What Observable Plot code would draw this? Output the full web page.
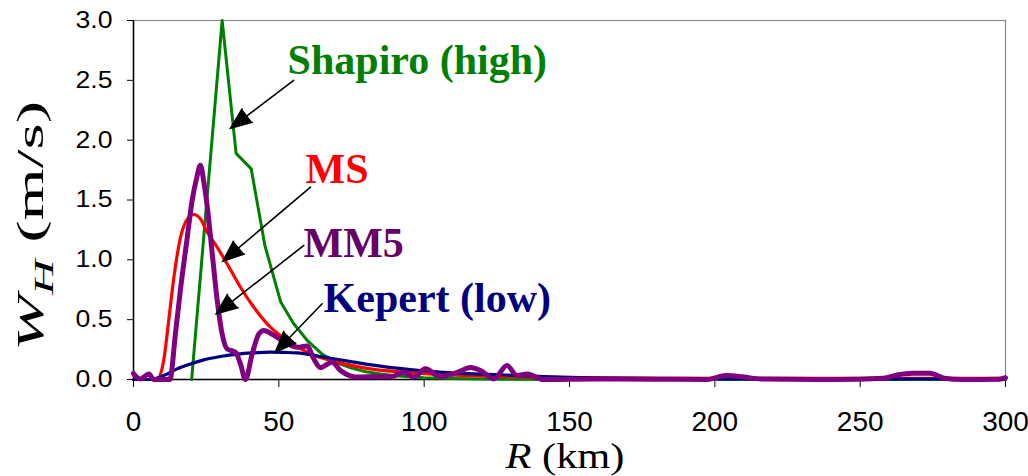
<!DOCTYPE html>
<html><head><meta charset="utf-8">
<script src="https://cdn.jsdelivr.net/npm/d3@7"></script>
<script src="https://cdn.jsdelivr.net/npm/@observablehq/plot@0.6"></script>
<style>body{margin:0;background:#fff} #chart svg{display:block}</style>
</head><body><div id="chart"></div>
<script>
// ---- data ----
const xTicks = [0, 50, 100, 150, 200, 250, 300];
const yTicks = [0, 0.5, 1.0, 1.5, 2.0, 2.5, 3.0];

const shapiroR = [20, 30.5, 35.3, 40.5, 45.2, 50.6, 55, 60, 65, 70, 75, 80, 85, 90, 95, 100, 110, 120, 130, 150, 200, 250, 300];
const shapiroW = [0, 3.0, 1.89, 1.76, 1.12, 0.65, 0.47, 0.32, 0.21, 0.14, 0.095, 0.065, 0.047, 0.032, 0.022, 0.015, 0.008, 0.004, 0.002, 0.001, 0, 0, 0];

const msR = [0, 5, 8, 10.4, 12.1, 13.9, 16.2, 19, 20.7, 23, 25.4, 28.8, 32.2, 36.8, 41.4, 47.1, 52.9, 60.9, 70, 81.5, 93, 104.5, 113.5, 125, 140, 160, 200, 250, 300];
const msW = [0, 0, 0, 0.16, 0.49, 0.855, 1.19, 1.356, 1.379, 1.343, 1.23, 1.105, 0.967, 0.771, 0.604, 0.437, 0.326, 0.215, 0.145, 0.089, 0.061, 0.042, 0.033, 0.025, 0.018, 0.013, 0.01, 0.01, 0.01];

const kepertR = [0, 5, 7, 10.4, 15, 19.6, 24.2, 29.9, 35.7, 41, 47, 52, 56.3, 64.3, 75.8, 87.3, 98.7, 111.4, 124, 147, 181, 220, 260, 300];
const kepertW = [0, 0, 0.005, 0.033, 0.089, 0.13, 0.164, 0.192, 0.212, 0.222, 0.228, 0.226, 0.222, 0.192, 0.145, 0.103, 0.075, 0.053, 0.042, 0.02, 0.008, 0.005, 0.004, 0.004];

const mm5R = [0, 2.4, 5.3, 7, 10, 12.5, 14.5, 16.3, 18.3, 20.2, 21.7, 23, 24.2, 25.4, 27.1, 28.8, 30.5, 32.2, 35.1, 36.8, 38.5, 40.8, 43.1, 44.8, 48.3, 52.9, 56.3, 59.7, 62, 64.3, 68.3, 71.2, 77, 83.8, 88.4, 93, 96.4, 100.4, 105.6, 111.4, 116, 119.4, 124, 128.5, 132, 135.4, 141, 158, 180, 197, 204, 210, 216, 241, 258, 263, 268, 274, 279, 285, 298, 300];
const mm5W = [0.05, 0.005, 0.045, 0, 0, 0, 0.4, 0.78, 1.15, 1.5, 1.68, 1.79, 1.65, 1.44, 1.05, 0.66, 0.38, 0.256, 0.228, 0.13, 0, 0.21, 0.38, 0.41, 0.37, 0.3, 0.27, 0.28, 0.173, 0.1, 0.145, 0.075, 0.02, 0.025, 0.02, 0.061, 0.02, 0.089, 0.025, 0.06, 0.1, 0.075, 0.005, 0.117, 0.033, 0.047, 0, 0.005, 0.003, 0, 0.033, 0.02, 0.005, 0, 0.01, 0.04, 0.053, 0.053, 0.01, 0, 0.003, 0.015];

const labelNames  = ["Shapiro (high)", "MS", "MM5", "Kepert (low)"];
const labelColors = ["#008000", "#ff0000", "#660066", "#000080"];
const labelR = [53.0, 59.2, 58.5, 65.4];
const labelW = [2.557, 1.638, 1.022, 0.562];

const arrowR1 = [55.1, 60.9, 58.6, 64.9];
const arrowW1 = [2.5, 1.607, 1.12, 0.633];
const arrowR2 = [33.4, 30.8, 28.5, 48.8];
const arrowW2 = [2.10, 0.99, 0.549, 0.228];

// ---- tables ----
const rows = (R, W) => R.map((r, i) => ({r, w: W[i]}));
const labels = labelNames.map((t, i) => ({t, c: labelColors[i], r: labelR[i], w: labelW[i]}));
const arrows = arrowR1.map((r, i) => ({r1: r, w1: arrowW1[i], r2: arrowR2[i], w2: arrowW2[i]}));

const serif = "'Liberation Serif', 'Times New Roman', serif";

const plot = Plot.plot({
  width: 1028, height: 476,
  marginLeft: 133, marginRight: 23, marginTop: 20, marginBottom: 97,
  style: {background: "#fff", fontFamily: "'Liberation Sans', Arial, sans-serif", color: "black"},
  x: {domain: [0, 300]},
  y: {domain: [0, 3]},
  marks: [
    Plot.frame({stroke: "#8c8c8c", strokeWidth: 1.2}),
    Plot.axisY({ticks: yTicks, tickFormat: d3.format(".1f"), tickSize: 6, tickPadding: 15, fontSize: 23, label: null}),
    Plot.axisX({ticks: xTicks, tickSize: 8, tickPadding: 24, fontSize: 28, label: null}),
    Plot.ruleX([0], {stroke: "black", strokeWidth: 1.5}),
    Plot.ruleY([0], {stroke: "black", strokeWidth: 1.5}),
    Plot.line(rows(shapiroR, shapiroW), {x: "r", y: "w", stroke: "#008000", strokeWidth: 3}),
    Plot.line(rows(msR, msW), {x: "r", y: "w", stroke: "#ff0000", strokeWidth: 3.2, curve: "monotone-x"}),
    Plot.line(rows(kepertR, kepertW), {x: "r", y: "w", stroke: "#000080", strokeWidth: 3.2, curve: "monotone-x"}),
    Plot.line(rows(mm5R, mm5W), {x: "r", y: "w", stroke: "#800080", strokeWidth: 5, curve: "monotone-x"}),
    Plot.arrow(arrows, {x1: "r1", y1: "w1", x2: "r2", y2: "w2", stroke: "black", fill: "black",
      strokeWidth: 1.6, headLength: 21, headAngle: 44, strokeLinejoin: "miter", strokeMiterlimit: 10}),
    Plot.text(labels, {x: "r", y: "w", text: "t", fill: "c", textAnchor: "start", lineAnchor: "bottom",
      fontSize: 42, fontWeight: "bold", fontFamily: serif})
  ]
});

document.getElementById("chart").appendChild(plot);
const svg = d3.select(plot);

// stretch y tick labels slightly like the reference
svg.selectAll('g[aria-label="y-axis tick label"] text')
  .attr("textLength", 37).attr("lengthAdjust", "spacingAndGlyphs");

// axis titles with italic / subscript
const yt = svg.append("text")
  .attr("transform", "translate(43,226) rotate(-90)")
  .attr("text-anchor", "middle")
  .style("font-family", serif)
  .style("font-size", "37px")
  .style("fill", "black")
  .attr("textLength", 250).attr("lengthAdjust", "spacingAndGlyphs");
yt.append("tspan").style("font-style", "italic").text("W");
yt.append("tspan").style("font-style", "italic").style("font-size", "27px").attr("dy", 10).text("H");
yt.append("tspan").attr("dy", -10).text(" (m/s)");

const xt = svg.append("text")
  .attr("x", 565).attr("y", 468)
  .attr("text-anchor", "middle")
  .style("font-family", serif)
  .style("font-size", "35px")
  .style("fill", "black")
  .attr("textLength", 119).attr("lengthAdjust", "spacingAndGlyphs");
xt.append("tspan").style("font-style", "italic").text("R");
xt.append("tspan").text(" (km)");
</script>
</body></html>
